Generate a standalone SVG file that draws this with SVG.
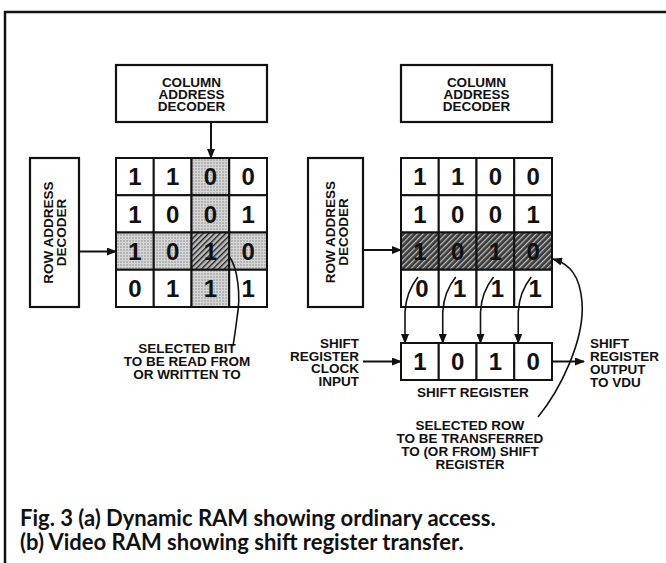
<svg xmlns="http://www.w3.org/2000/svg" width="666" height="563" viewBox="0 0 666 563">
<style>
.box{fill:#fff;stroke:#111;stroke-width:2.2}
.cell{fill:#fff;stroke:#111;stroke-width:2}
.st{fill:url(#stip);stroke:#111;stroke-width:2}
.hl{fill:url(#hatchL);stroke:#111;stroke-width:2}
.hd{fill:url(#hatchD);stroke:#111;stroke-width:2}
.lbl{font-family:"Liberation Sans",Arial,sans-serif;font-weight:bold;font-size:13.5px;fill:#111}
.mid{text-anchor:middle}
.end{text-anchor:end}
.dig{font-family:"Liberation Sans",Arial,sans-serif;font-weight:bold;font-size:24px;fill:#111;text-anchor:middle}
.cap{font-family:Lato,"Open Sans",sans-serif;font-weight:bold;font-size:22px;fill:#111}
.ln{fill:none;stroke:#111;stroke-width:2}
.thin{fill:none;stroke:#111;stroke-width:1.6}
</style>
<defs>
<pattern id="stip" width="3" height="3" patternUnits="userSpaceOnUse">
<rect width="3" height="3" fill="#d6d6d6"/>
<circle cx="1" cy="1" r="0.7" fill="#777"/>
</pattern>
<pattern id="hatchL" width="4" height="4" patternUnits="userSpaceOnUse" patternTransform="rotate(45)">
<rect width="4" height="4" fill="#bdbdbd"/>
<rect width="1.4" height="4" fill="#222"/>
</pattern>
<pattern id="hatchD" width="4" height="4" patternUnits="userSpaceOnUse" patternTransform="rotate(45)">
<rect width="4" height="4" fill="#3a3a3a"/>
<rect width="1.3" height="4" fill="#bbb"/>
</pattern>
<marker id="ah" viewBox="0 0 10 8" refX="9" refY="4" markerWidth="10" markerHeight="8" markerUnits="userSpaceOnUse" orient="auto">
<path d="M0,0 L10,4 L0,8 z" fill="#111"/>
</marker>
</defs>
<rect width="666" height="563" fill="#fff"/>
<g id="frame">
<path d="M5,563 V12 H666" fill="none" stroke="#111" stroke-width="2.5"/>
</g>

<g id="col-decoder-a">
<rect class="box" x="116" y="65" width="151" height="57"/>
<text class="lbl mid" x="191.5" y="86.5">COLUMN<tspan x="191.5" dy="12">ADDRESS</tspan><tspan x="191.5" dy="12">DECODER</tspan></text>
</g>
<g id="row-decoder-a">
<rect class="box" x="30" y="158" width="49" height="149"/>
<text class="lbl mid" transform="translate(53,232.5) rotate(-90)">ROW ADDRESS<tspan x="0" dy="12.5">DECODER</tspan></text>
</g>
<g id="grid-a">
<rect class="cell" x="116" y="158" width="37.75" height="37.25"/>
<rect class="cell" x="153.75" y="158" width="37.75" height="37.25"/>
<rect class="st" x="191.5" y="158" width="37.75" height="37.25"/>
<rect class="cell" x="229.25" y="158" width="37.75" height="37.25"/>
<rect class="cell" x="116" y="195.25" width="37.75" height="37.25"/>
<rect class="cell" x="153.75" y="195.25" width="37.75" height="37.25"/>
<rect class="st" x="191.5" y="195.25" width="37.75" height="37.25"/>
<rect class="cell" x="229.25" y="195.25" width="37.75" height="37.25"/>
<rect class="st" x="116" y="232.5" width="37.75" height="37.25"/>
<rect class="st" x="153.75" y="232.5" width="37.75" height="37.25"/>
<rect class="hl" x="191.5" y="232.5" width="37.75" height="37.25"/>
<rect class="st" x="229.25" y="232.5" width="37.75" height="37.25"/>
<rect class="cell" x="116" y="269.75" width="37.75" height="37.25"/>
<rect class="cell" x="153.75" y="269.75" width="37.75" height="37.25"/>
<rect class="st" x="191.5" y="269.75" width="37.75" height="37.25"/>
<rect class="cell" x="229.25" y="269.75" width="37.75" height="37.25"/>
<text class="dig" x="134.9" y="185.2">1</text><text class="dig" x="172.6" y="185.2">1</text><text class="dig" x="210.4" y="185.2">0</text><text class="dig" x="248.1" y="185.2">0</text>
<text class="dig" x="134.9" y="222.5">1</text><text class="dig" x="172.6" y="222.5">0</text><text class="dig" x="210.4" y="222.5">0</text><text class="dig" x="248.1" y="222.5">1</text>
<text class="dig" x="134.9" y="259.7">1</text><text class="dig" x="172.6" y="259.7">0</text><text class="dig" x="210.4" y="259.7">1</text><text class="dig" x="248.1" y="259.7">0</text>
<text class="dig" x="134.9" y="297">0</text><text class="dig" x="172.6" y="297">1</text><text class="dig" x="210.4" y="297">1</text><text class="dig" x="248.1" y="297">1</text>
</g>
<g id="label-selected-bit">
<text class="lbl mid" x="187" y="353">SELECTED BIT<tspan x="187" dy="13">TO BE READ FROM</tspan><tspan x="187" dy="13">OR WRITTEN TO</tspan></text>
</g>

<g id="col-decoder-b">
<rect class="box" x="401" y="65" width="151" height="57"/>
<text class="lbl mid" x="476.5" y="87">COLUMN<tspan x="476.5" dy="12">ADDRESS</tspan><tspan x="476.5" dy="12">DECODER</tspan></text>
</g>
<g id="row-decoder-b">
<rect class="box" x="308" y="158" width="55" height="149"/>
<text class="lbl mid" transform="translate(335,232) rotate(-90)">ROW ADDRESS<tspan x="0" dy="12.5">DECODER</tspan></text>
</g>
<g id="grid-b">
<rect class="cell" x="401" y="158" width="37.75" height="37.25"/>
<rect class="cell" x="438.75" y="158" width="37.75" height="37.25"/>
<rect class="cell" x="476.5" y="158" width="37.75" height="37.25"/>
<rect class="cell" x="514.25" y="158" width="37.75" height="37.25"/>
<rect class="cell" x="401" y="195.25" width="37.75" height="37.25"/>
<rect class="cell" x="438.75" y="195.25" width="37.75" height="37.25"/>
<rect class="cell" x="476.5" y="195.25" width="37.75" height="37.25"/>
<rect class="cell" x="514.25" y="195.25" width="37.75" height="37.25"/>
<rect class="hd" x="401" y="232.5" width="37.75" height="37.25"/>
<rect class="hd" x="438.75" y="232.5" width="37.75" height="37.25"/>
<rect class="hd" x="476.5" y="232.5" width="37.75" height="37.25"/>
<rect class="hd" x="514.25" y="232.5" width="37.75" height="37.25"/>
<rect class="cell" x="401" y="269.75" width="37.75" height="37.25"/>
<rect class="cell" x="438.75" y="269.75" width="37.75" height="37.25"/>
<rect class="cell" x="476.5" y="269.75" width="37.75" height="37.25"/>
<rect class="cell" x="514.25" y="269.75" width="37.75" height="37.25"/>
<text class="dig" x="419.9" y="185.2">1</text><text class="dig" x="457.6" y="185.2">1</text><text class="dig" x="495.4" y="185.2">0</text><text class="dig" x="533.1" y="185.2">0</text>
<text class="dig" x="419.9" y="222.5">1</text><text class="dig" x="457.6" y="222.5">0</text><text class="dig" x="495.4" y="222.5">0</text><text class="dig" x="533.1" y="222.5">1</text>
<text class="dig" x="419.9" y="259.7">1</text><text class="dig" x="457.6" y="259.7">0</text><text class="dig" x="495.4" y="259.7">1</text><text class="dig" x="533.1" y="259.7">0</text>
<text class="dig" x="421.9" y="297">0</text><text class="dig" x="459.6" y="297">1</text><text class="dig" x="497.4" y="297">1</text><text class="dig" x="535.1" y="297">1</text>
</g>
<g id="shift-register">
<rect class="cell" x="401" y="343" width="37.75" height="37"/>
<rect class="cell" x="438.75" y="343" width="37.75" height="37"/>
<rect class="cell" x="476.5" y="343" width="37.75" height="37"/>
<rect class="cell" x="514.25" y="343" width="37.75" height="37"/>
<text class="dig" x="419.9" y="370">1</text><text class="dig" x="457.6" y="370">0</text><text class="dig" x="495.4" y="370">1</text><text class="dig" x="533.1" y="370">0</text>
<text class="lbl mid" x="473" y="397">SHIFT REGISTER</text>
</g>
<g id="label-clock">
<text class="lbl end" x="359" y="348">SHIFT<tspan x="359" dy="12.5">REGISTER</tspan><tspan x="359" dy="12.5">CLOCK</tspan><tspan x="359" dy="12.5">INPUT</tspan></text>
</g>
<g id="label-output">
<text class="lbl" x="590" y="348">SHIFT<tspan x="590" dy="13">REGISTER</tspan><tspan x="590" dy="13">OUTPUT</tspan><tspan x="590" dy="13">TO VDU</tspan></text>
</g>
<g id="label-selected-row">
<text class="lbl mid" x="470" y="430">SELECTED ROW<tspan x="470" dy="13">TO BE TRANSFERRED</tspan><tspan x="470" dy="13">TO (OR FROM) SHIFT</tspan><tspan x="470" dy="13">REGISTER</tspan></text>
</g>

<g id="connectors">
<path class="ln" d="M211,122 V158" marker-end="url(#ah)"/>
<path class="ln" d="M79,251.5 H116" marker-end="url(#ah)"/>
<path class="ln" d="M363,250 H401" marker-end="url(#ah)"/>
<path class="ln" d="M363,361.5 H401" marker-end="url(#ah)"/>
<path class="ln" d="M552,361.5 H584" marker-end="url(#ah)"/>
<path class="thin" d="M229,256 C238,268 241,296 237,318 Q235,334 233,346"/>
<path class="thin" d="M418,277 Q406,292 405,312 L405,343" marker-end="url(#ah)"/>
<path class="thin" d="M455.75,277 Q443.75,292 442.75,312 L442.75,343" marker-end="url(#ah)"/>
<path class="thin" d="M493.5,277 Q481.5,292 480.5,312 L480.5,343" marker-end="url(#ah)"/>
<path class="thin" d="M531.25,277 Q519.25,292 518.25,312 L518.25,343" marker-end="url(#ah)"/>
<path class="thin" d="M538,417 C560,390 585,340 582,302 C580,276 570,264 553,259" marker-end="url(#ah)"/>
</g>

<g id="caption">
<text class="cap" x="20" y="526">Fig. 3 (a) Dynamic RAM showing ordinary access.<tspan x="20" dy="24">(b) Video RAM showing shift register transfer.</tspan></text>
</g>
</svg>
